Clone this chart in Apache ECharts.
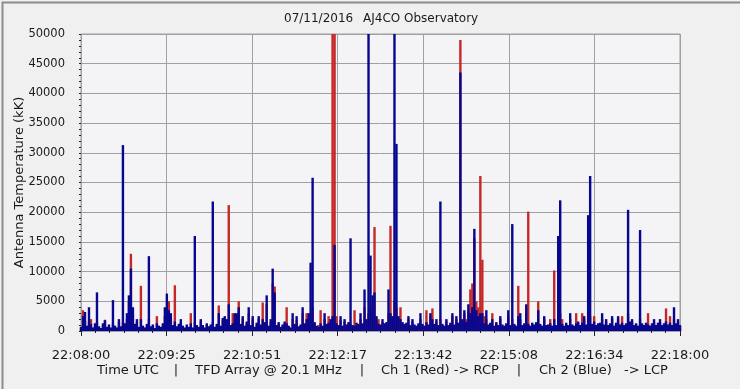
<!DOCTYPE html>
<html>
<head>
<meta charset="utf-8">
<script src="https://cdn.jsdelivr.net/npm/echarts@6/dist/echarts.min.js"></script>
<style>
html,body{margin:0;padding:0;background:#f0f0f0;}
#c{width:740px;height:389px;}
</style>
</head>
<body>
<div id="c"></div>
<script>
// Sample spacing: one value every 2 seconds, from 22:08:00 to 22:18:00
const STEP_SECONDS = 2;
const SPAN_SECONDS = 600;
const X_TICK_LABELS = ['22:08:00','22:09:25','22:10:51','22:12:17','22:13:42','22:15:08','22:16:34','22:18:00'];
const Y_TICKS = [0,5000,10000,15000,20000,25000,30000,35000,40000,45000,50000];

// Ch 2 (Blue) -> LCP, antenna temperature in kK
const ch2Blue = [
 700,2500,3200,900,4000,1200,600,1300,6500,800,
 500,1300,1800,700,1100,600,5200,900,600,2000,
 800,31300,1300,3000,6000,10500,4000,1200,2000,700,
 2000,900,600,1200,12600,800,1100,500,1300,900,
 700,1300,4000,6300,3500,3000,1000,1600,800,1200,
 2000,900,600,1100,700,1300,600,16000,1000,700,
 2000,1000,600,1300,800,1100,21800,700,1200,3000,
 900,2200,2500,2000,4500,1000,1300,3000,3000,4000,
 1200,2500,900,1600,4000,1000,2500,700,1400,2500,
 1100,2000,1500,6000,900,2000,10500,6500,1000,1500,
 700,1100,1600,1300,900,600,3000,1200,2500,800,
 1100,4000,1300,2000,3000,11500,25800,1500,900,700,
 1300,900,3000,1200,1400,2000,2500,14500,1300,1000,
 2500,900,2000,1100,1500,15600,1000,900,1400,1200,
 3000,1300,7000,2000,50000,12700,6000,6500,2500,1200,
 1100,2000,1300,1500,7000,3000,2500,50000,31500,2500,
 2000,1500,1200,1400,2500,1000,2000,1100,900,1300,
 3000,1200,900,1500,1100,3000,2000,1200,2000,1000,
 21800,1200,900,2000,1000,1400,3000,1100,2500,1400,
 43500,2000,3500,1500,4500,3000,4000,17200,3500,2500,
 3000,3000,1300,3500,1100,1400,2000,900,1500,1000,
 2500,1100,900,1300,3500,1000,18000,1200,900,2500,
 3000,1000,1300,4500,1200,900,1400,1100,1500,3500,
 1200,900,2500,1000,1100,1300,900,2000,1000,16000,
 22000,1200,900,1400,1000,3000,1100,900,1300,1600,
 1000,1400,2500,1100,19500,26100,1200,1600,1000,1300,
 1400,3000,1100,2000,1000,1300,2500,900,1400,2500,
 1100,1400,1000,1300,20400,1600,2000,1000,1300,900,
 17000,1300,1000,1400,1100,900,1300,2000,1000,1400,
 2000,1000,1300,1600,1100,1400,1000,4000,1300,2000,
 1000
];

// Ch 1 (Red) -> RCP, antenna temperature in kK
const ch1Red = [
 500,3500,1800,700,1600,2000,400,800,1500,600,
 400,1000,1900,500,700,500,1200,800,400,1500,
 600,1500,1000,2000,5000,13000,3000,1000,1500,500,
 7600,700,400,800,2000,600,900,400,2500,700,
 500,900,2500,3000,5000,2200,700,7700,600,800,
 1500,700,500,800,600,3000,500,1500,700,600,
 1600,800,500,1000,700,800,1500,600,900,4300,
 800,1800,2000,1500,21200,800,3000,2000,2500,5000,
 1000,2000,800,1300,3000,900,2000,600,1100,2000,
 900,4800,1300,4500,800,1500,8000,7500,800,1200,
 600,900,1300,4000,800,500,2000,1000,1800,700,
 800,3000,1000,3000,1500,3000,4000,1300,800,1000,
 3500,800,2000,1000,2500,1800,50000,50000,2500,900,
 1800,800,1600,900,1300,1200,800,3500,1000,900,
 2000,1100,4000,1500,3000,4000,3000,17500,1800,2000,
 900,1500,1000,1300,3000,17700,2000,5000,4000,2000,
 4000,1300,1000,1100,2000,800,1600,900,800,1000,
 2000,1000,800,3500,900,2500,3800,1000,1600,800,
 2000,1000,800,1600,900,1100,2500,900,2000,1200,
 49000,1600,3000,2000,3500,7000,8000,15600,5000,4000,
 26100,12000,2500,2000,1000,1200,3000,800,1300,900,
 2000,900,800,1100,2500,900,2000,1000,800,7600,
 2000,900,1000,3000,20100,800,1100,1000,1300,5000,
 1000,800,2000,900,1000,2000,800,10200,900,2000,
 3000,2000,800,1100,900,2000,1000,800,3000,1300,
 900,3000,2000,1000,3000,2500,1100,2500,900,1000,
 1100,2000,1000,1600,900,1000,2000,800,1100,2000,
 1000,2500,900,1100,3000,1300,1600,900,1100,800,
 2000,1000,900,1100,3000,800,1000,1500,900,1100,
 1500,900,1000,3800,1000,2500,900,2000,1000,1500,
 800
];

const FONT = 'DejaVu Sans';
const toPairs = arr => arr.map((v, i) => [i * STEP_SECONDS, v]);
const xInterval = SPAN_SECONDS / (X_TICK_LABELS.length - 1);

const chart = echarts.init(document.getElementById('c'), null, {renderer: 'canvas'});
chart.setOption({
  backgroundColor: '#f0f0f0',
  animation: false,
  grid: {
    left: 81, top: 34, right: 60, bottom: 58,
    containLabel: false, outerBoundsMode: 'none',
    show: true, backgroundColor: '#f4f4f7', borderColor: '#a0a0a0', borderWidth: 1
  },
  xAxis: {
    type: 'value', min: 0, max: SPAN_SECONDS, interval: xInterval,
    offset: 6,
    axisLine: {show: false},
    axisTick: {show: true, length: 5, lineStyle: {color: '#222'}},
    minorTick: {show: true, splitNumber: 6, length: 2, lineStyle: {color: '#222'}},
    splitLine: {show: true, lineStyle: {color: '#a0a0a0', width: 1}},
    axisLabel: {
      margin: 12, fontFamily: FONT, fontSize: 13, color: '#1a1a1a',
      formatter: v => X_TICK_LABELS[Math.round(v / xInterval)] || ''
    }
  },
  yAxis: {
    type: 'value', min: Y_TICKS[0], max: Y_TICKS[Y_TICKS.length - 1], interval: Y_TICKS[1] - Y_TICKS[0],
    offset: 5,
    name: 'Antenna Temperature (kK)', nameLocation: 'middle', nameGap: 50, nameMoveOverlap: false,
    nameTextStyle: {fontFamily: FONT, fontSize: 13, color: '#1a1a1a'},
    axisLine: {show: false},
    axisTick: {show: true, length: 2, lineStyle: {color: '#222'}},
    minorTick: {show: true, splitNumber: 5, length: 2, lineStyle: {color: '#222'}},
    splitLine: {show: true, lineStyle: {color: '#a0a0a0', width: 1}},
    axisLabel: {margin: 11, fontFamily: FONT, fontSize: 11.5, color: '#1a1a1a', formatter: v => String(v)}
  },
  series: [
    {
      name: 'Ch 1 (Red)', type: 'bar', data: toPairs(ch1Red), barWidth: 2.4, barGap: '-100%',
      itemStyle: {color: '#c62828'}, z: 2
    },
    {
      name: 'Ch 2 (Blue)', type: 'bar', data: toPairs(ch2Blue), barWidth: 2.4, barGap: '-100%',
      itemStyle: {color: '#06068f'}, z: 3
    }
  ],
  graphic: [
    {type: 'rect', left: 0, top: 0, shape: {width: 739, height: 388}, style: {fill: 'none', stroke: '#8c8c8c', lineWidth: 2}, silent: true},
    {type: 'text', x: 284, y: 19, style: {text: '07/11/2016', font: '12px "DejaVu Sans"', fill: '#1a1a1a', verticalAlign: 'middle'}},
    {type: 'text', x: 363, y: 19, style: {text: 'AJ4CO Observatory', font: '12px "DejaVu Sans"', fill: '#1a1a1a', verticalAlign: 'middle'}},
    {type: 'text', x: 97, y: 371, style: {text: 'Time UTC', font: '13px "DejaVu Sans"', fill: '#1a1a1a', verticalAlign: 'middle'}},
    {type: 'text', x: 176, y: 371, style: {text: '|', font: '13px "DejaVu Sans"', fill: '#1a1a1a', verticalAlign: 'middle', align: 'center'}},
    {type: 'text', x: 195, y: 371, style: {text: 'TFD Array @ 20.1 MHz', font: '13px "DejaVu Sans"', fill: '#1a1a1a', verticalAlign: 'middle'}},
    {type: 'text', x: 362, y: 371, style: {text: '|', font: '13px "DejaVu Sans"', fill: '#1a1a1a', verticalAlign: 'middle', align: 'center'}},
    {type: 'text', x: 381, y: 371, style: {text: 'Ch 1 (Red) -> RCP', font: '13px "DejaVu Sans"', fill: '#1a1a1a', verticalAlign: 'middle'}},
    {type: 'text', x: 519, y: 371, style: {text: '|', font: '13px "DejaVu Sans"', fill: '#1a1a1a', verticalAlign: 'middle', align: 'center'}},
    {type: 'text', x: 539, y: 371, style: {text: 'Ch 2 (Blue)', font: '13px "DejaVu Sans"', fill: '#1a1a1a', verticalAlign: 'middle'}},
    {type: 'text', x: 624, y: 371, style: {text: '-> LCP', font: '13px "DejaVu Sans"', fill: '#1a1a1a', verticalAlign: 'middle'}}
  ]
});
</script>
</body>
</html>
